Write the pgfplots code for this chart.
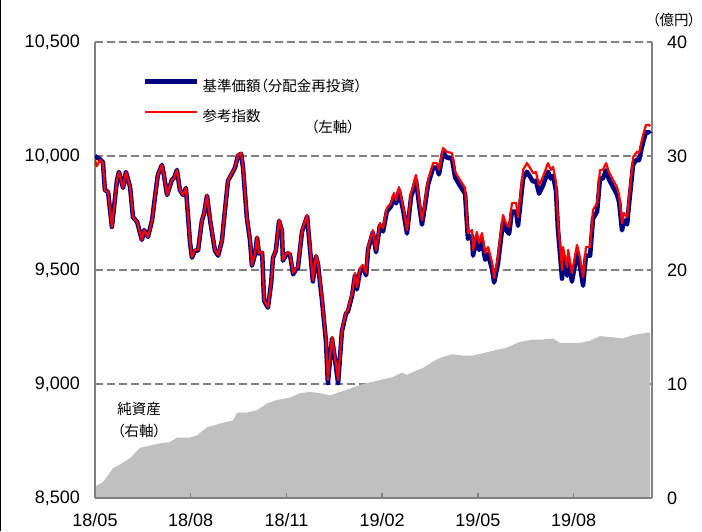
\documentclass[border=0pt]{standalone}
\usepackage{fontspec}
\setmainfont{Liberation Sans}
\newfontfamily\jp[RawFeature=+palt]{Noto Sans CJK JP}
\usepackage{pgfplots}
\pgfplotsset{compat=1.18}

\definecolor{navline}{RGB}{0,0,128}
\definecolor{idxline}{RGB}{255,0,0}
\definecolor{assetfill}{RGB}{192,192,192}
\definecolor{framegray}{RGB}{128,128,128}

% x = months since 2018/05
\pgfplotstableread{
m v
0.00 1.0
0.06 1.1
0.25 1.4
0.41 2.0
0.56 2.6
0.88 3.1
1.10 3.5
1.41 4.4
1.72 4.6
2.04 4.8
2.35 4.9
2.57 5.3
2.98 5.3
3.20 5.5
3.51 6.2
4.01 6.6
4.33 6.8
4.45 7.5
4.76 7.5
5.08 7.7
5.39 8.3
5.71 8.6
6.11 8.8
6.43 9.2
6.74 9.3
7.05 9.2
7.37 9.0
7.68 9.3
7.99 9.6
8.40 10.0
8.93 10.35
9.34 10.6
9.62 11.0
9.78 10.8
10.09 11.2
10.28 11.4
10.56 11.9
10.82 12.3
11.19 12.6
11.54 12.5
11.85 12.5
12.16 12.7
12.60 13.0
12.92 13.2
13.32 13.7
13.73 13.9
14.04 13.9
14.36 14.0
14.58 13.6
14.89 13.6
15.20 13.6
15.52 13.8
15.83 14.2
16.24 14.1
16.55 14.0
16.87 14.3
17.30 14.5
17.40 14.5
}\assets

\pgfplotstableread{
m v
0.00 9985
0.05 9955
0.16 9982
0.25 9969
0.31 9851
0.41 9842
0.53 9689
0.69 9895
0.75 9930
0.88 9860
0.97 9930
1.10 9864
1.19 9732
1.32 9711
1.47 9632
1.54 9675
1.66 9645
1.79 9719
1.88 9820
1.97 9917
2.10 9961
2.16 9917
2.26 9829
2.41 9895
2.48 9904
2.57 9939
2.66 9851
2.76 9829
2.85 9860
2.98 9618
3.04 9557
3.13 9588
3.23 9588
3.35 9719
3.42 9750
3.51 9829
3.61 9719
3.76 9588
3.86 9566
3.98 9632
4.04 9719
4.17 9895
4.29 9925
4.39 9952
4.48 10004
4.58 10013
4.64 9952
4.76 9732
4.86 9632
4.92 9522
5.02 9575
5.08 9645
5.14 9575
5.24 9579
5.30 9368
5.42 9338
5.52 9443
5.58 9557
5.67 9588
5.77 9719
5.86 9675
5.89 9544
6.02 9579
6.11 9575
6.21 9487
6.30 9509
6.36 9513
6.49 9675
6.65 9741
6.71 9645
6.83 9456
6.93 9566
6.99 9531
7.12 9368
7.24 9193
7.30 9018
7.43 9206
7.52 9118
7.62 9018
7.74 9237
7.87 9316
7.93 9325
8.06 9399
8.15 9487
8.21 9425
8.31 9509
8.40 9522
8.50 9487
8.56 9601
8.71 9675
8.81 9588
8.93 9706
9.03 9684
9.15 9772
9.28 9794
9.37 9838
9.44 9807
9.53 9864
9.66 9776
9.78 9675
9.91 9838
9.97 9864
10.06 9917
10.16 9807
10.25 9719
10.34 9798
10.44 9895
10.60 9969
10.72 9969
10.78 9939
10.91 10035
11.03 10018
11.19 10013
11.29 9930
11.44 9895
11.60 9860
11.69 9662
11.82 9675
11.85 9588
11.97 9667
12.04 9618
12.13 9662
12.23 9575
12.32 9601
12.45 9531
12.51 9465
12.63 9557
12.79 9741
12.88 9706
12.98 9689
13.07 9794
13.20 9794
13.26 9732
13.42 9939
13.54 9969
13.64 9947
13.73 9925
13.82 9930
13.92 9873
14.04 9908
14.20 9969
14.29 9939
14.36 9952
14.45 9886
14.51 9719
14.64 9500
14.67 9601
14.80 9513
14.83 9588
14.95 9487
15.11 9610
15.20 9557
15.30 9469
15.39 9601
15.52 9601
15.61 9763
15.74 9794
15.83 9939
15.92 9939
16.02 9969
16.11 9930
16.24 9895
16.36 9864
16.43 9829
16.52 9706
16.58 9750
16.68 9732
16.74 9820
16.87 9996
16.99 10018
17.05 10013
17.18 10092
17.27 10136
17.37 10136
17.40 10130
}\index

\pgfplotstableread{
m v
0.00 10000
0.05 9995
0.16 9985
0.25 9972
0.31 9851
0.41 9842
0.53 9689
0.69 9895
0.75 9930
0.88 9860
0.97 9930
1.10 9864
1.19 9732
1.32 9711
1.47 9632
1.54 9675
1.66 9645
1.79 9719
1.88 9820
1.97 9917
2.10 9961
2.16 9917
2.26 9829
2.41 9895
2.48 9904
2.57 9939
2.66 9851
2.76 9829
2.85 9860
2.98 9618
3.04 9554
3.13 9585
3.23 9585
3.35 9716
3.42 9747
3.51 9826
3.61 9716
3.76 9585
3.86 9563
3.98 9629
4.04 9716
4.17 9892
4.29 9922
4.39 9949
4.48 10001
4.58 10010
4.64 9949
4.76 9729
4.86 9629
4.92 9519
5.02 9572
5.08 9642
5.14 9572
5.24 9576
5.30 9365
5.42 9335
5.52 9440
5.58 9554
5.67 9585
5.77 9716
5.86 9672
5.89 9541
6.02 9573
6.11 9569
6.21 9481
6.30 9503
6.36 9507
6.49 9669
6.65 9735
6.71 9639
6.83 9450
6.93 9560
6.99 9525
7.12 9362
7.24 9187
7.30 9004
7.43 9200
7.52 9112
7.62 9004
7.74 9231
7.87 9310
7.93 9319
8.06 9389
8.15 9477
8.21 9415
8.31 9499
8.40 9512
8.50 9477
8.56 9591
8.71 9665
8.81 9578
8.93 9696
9.03 9669
9.15 9757
9.28 9779
9.37 9823
9.44 9792
9.53 9849
9.66 9761
9.78 9660
9.91 9823
9.97 9849
10.06 9897
10.16 9787
10.25 9699
10.34 9778
10.44 9875
10.60 9949
10.72 9949
10.78 9919
10.91 10015
11.03 9993
11.19 9988
11.29 9905
11.44 9870
11.60 9835
11.69 9637
11.82 9650
11.85 9563
11.97 9642
12.04 9588
12.13 9632
12.23 9545
12.32 9571
12.45 9501
12.51 9445
12.63 9527
12.79 9711
12.88 9676
12.98 9659
13.07 9756
13.20 9756
13.26 9694
13.42 9901
13.54 9931
13.64 9909
13.73 9887
13.82 9892
13.92 9835
14.04 9870
14.20 9931
14.29 9901
14.36 9914
14.45 9848
14.51 9681
14.64 9462
14.67 9563
14.80 9475
14.83 9550
14.95 9449
15.11 9572
15.20 9519
15.30 9431
15.39 9563
15.52 9563
15.61 9725
15.74 9756
15.83 9901
15.92 9901
16.02 9937
16.11 9898
16.24 9863
16.36 9832
16.43 9797
16.52 9674
16.58 9718
16.68 9700
16.74 9788
16.87 9964
16.99 9986
17.05 9981
17.18 10060
17.27 10104
17.37 10104
17.40 10098
}\nav

\pgfplotsset{
  base/.style={
    at={(95pt,33pt)}, anchor=south west,
    scale only axis, width=557pt, height=456pt,
    xmin=0, xmax=17.46,
    scaled ticks=false,
    tick label style={font=\fontsize{18}{20}\selectfont, inner sep=0pt},
  },
}
\newcommand\jpsize{\jp\fontsize{14.5}{16}\selectfont}

\begin{document}
\begin{tikzpicture}
% grid and left labels
\begin{axis}[base,
  ymin=8500, ymax=10500,
  ytick={8500,9000,9500,10000,10500},
  yticklabels={{8,500},{9,000},{9,500},{10,000},{10,500}},
  yticklabel style={anchor=east, xshift=-15pt},
  xtick=\empty,
  major tick length=0pt,
  axis line style={draw=none},
  ymajorgrids,
  grid style={framegray, line width=2pt, dash pattern=on 8pt off 4pt},
]
\end{axis}
% net assets, right axis
\begin{axis}[base,
  ymin=0, ymax=40,
  axis x line=none, axis y line*=right,
  axis line style={framegray, line width=2pt},
  axis on top,
  ytick={0,10,20,30,40},
  yticklabels={0,10,20,30,40},
  yticklabel style={anchor=west, xshift=15pt},
  major tick length=0pt,
]
\addplot[fill=assetfill, draw=none] table[x=m, y=v] {\assets} \closedcycle;
\end{axis}
% fund and benchmark
\begin{axis}[base,
  ymin=8500, ymax=10500,
  axis lines*=left,
  axis line style={framegray, line width=2pt},
  ytick=\empty,
  xtick={0,3,6,9,12,15},
  xticklabels={18/05,18/08,18/11,19/02,19/05,19/08},
  xticklabel style={anchor=north, yshift=-15pt},
  tick align=inside,
  major tick length=5pt,
  major tick style={framegray, line width=1.5pt},
  legend image code/.code={\draw[#1] (0pt,5pt) -- (52pt,5pt);},
  legend cell align=left,
  legend style={at={(rel axis cs:0.0862,0.9189)}, anchor=north west,
    draw=none, fill=none, inner sep=0pt, row sep=15pt, column sep=3pt,
    nodes={inner sep=0pt, text height=12pt, text depth=3pt, font=\jpsize}},
]
\addplot[navline, line width=4.5pt, line join=round] table[x=m, y=v] {\nav};
\addlegendentry{基準価額（分配金再投資）}
\addplot[idxline, line width=2.2pt, line join=round] table[x=m, y=v] {\index};
\addlegendentry{参考指数}
\node[font=\jpsize] at (rel axis cs:0.427,0.8136) {（左軸）};
\node[font=\jpsize, anchor=west] at (rel axis cs:0.034,0.195) {純資産};
\node[font=\jpsize, anchor=west] at (rel axis cs:0.034,0.147) {（右軸）};
\end{axis}
\node[font=\jpsize] at (674pt,511pt) {（億円）};
\draw[black, line width=1pt] (0.5pt,0pt) -- (0.5pt,531pt);
\pgfresetboundingbox
\useasboundingbox (0pt,0pt) rectangle (702pt,531pt);
\end{tikzpicture}
\end{document}
